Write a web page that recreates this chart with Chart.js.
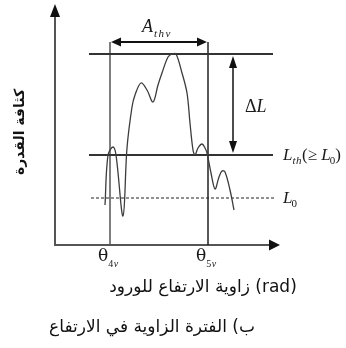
<!DOCTYPE html>
<html>
<head>
<meta charset="utf-8">
<script src="https://cdn.jsdelivr.net/npm/chart.js@4/dist/chart.umd.min.js"></script>
<style>
html,body{margin:0;padding:0;background:#fff;}
#c{display:block;}
</style>
</head>
<body>
<canvas id="c" width="346" height="348"></canvas>
<script>
// ---- data (schematic units) ----
const curveX = [50, 53, 58, 61, 68, 72, 77, 80, 86, 92, 98, 103, 107, 113, 117, 121, 127, 132, 135, 138, 140, 143, 147, 150, 152, 156, 160, 164, 167, 170, 175, 179];
const curveY = [40, 90, 98, 90, 29, 97, 138, 150, 162, 155, 143, 160, 172, 188, 191, 191, 172, 152, 122, 95, 90, 97, 101, 97, 92, 72, 56, 68, 74, 73, 55, 35];
const levelNames = ['Lmax', 'Lth', 'L0'];
const levelValues = [191, 90, 47];
const levelStart = [34, 34, 36];
const levelEnd = [218, 218, 220];
const angleNames = ['θ4v', 'θ5v'];
const angleValues = [55, 153];
const angleTop = 203;
const yTitle = 'كثافة القدرة';
const xTitle = 'زاوية الارتفاع للورود (rad)';
const caption = 'ب) الفترة الزاوية في الارتفاع';

const curvePts = curveX.map((x, i) => ({x: x, y: curveY[i]}));

const datasets = [
  {label: 'curve', data: curvePts, showLine: true, borderColor: '#3c3c3c', borderWidth: 1.3, pointRadius: 0, tension: 0.35, fill: false}
];
levelValues.forEach((v, i) => {
  datasets.push({
    label: levelNames[i],
    data: [{x: levelStart[i], y: v}, {x: levelEnd[i], y: v}],
    showLine: true, borderColor: i === 2 ? '#222' : '#333', borderWidth: i === 2 ? 1.2 : 2,
    borderDash: i === 2 ? [3, 2] : [], pointRadius: 0, tension: 0
  });
});
angleValues.forEach((v, i) => {
  datasets.push({
    label: angleNames[i],
    data: [{x: v, y: 0}, {x: v, y: angleTop}],
    showLine: true, borderColor: i === 0 ? '#555' : '#222', borderWidth: 1.5, pointRadius: 0, tension: 0
  });
});

function arrowHead(ctx, x, y, dir, len, half) {
  ctx.beginPath();
  if (dir === 'up') { ctx.moveTo(x, y); ctx.lineTo(x - half, y + len); ctx.lineTo(x + half, y + len); }
  if (dir === 'down') { ctx.moveTo(x, y); ctx.lineTo(x - half, y - len); ctx.lineTo(x + half, y - len); }
  if (dir === 'left') { ctx.moveTo(x, y); ctx.lineTo(x + len, y - half); ctx.lineTo(x + len, y + half); }
  if (dir === 'right') { ctx.moveTo(x, y); ctx.lineTo(x - len, y - half); ctx.lineTo(x - len, y + half); }
  ctx.closePath();
  ctx.fill();
}

// runs: [text, font, dy, extraGap, letterSpacing]
function drawRuns(ctx, x, y, runs) {
  ctx.textAlign = 'left';
  ctx.textBaseline = 'alphabetic';
  runs.forEach(r => {
    ctx.font = r[1];
    const ls = r[4] || 0;
    if (ls) {
      for (const ch of r[0]) {
        ctx.fillText(ch, x, y + (r[2] || 0));
        x += ctx.measureText(ch).width + ls;
      }
      x += (r[3] || 0);
    } else {
      ctx.fillText(r[0], x, y + (r[2] || 0));
      x += ctx.measureText(r[0]).width + (r[3] || 0);
    }
  });
}

const SERIF = '"Liberation Serif", "Times New Roman", serif';
const ARAB = '"DejaVu Sans", sans-serif';

const decor = {
  id: 'decor',
  beforeDatasetsDraw(chart) {
    const {ctx, chartArea: a} = chart;
    ctx.save();
    ctx.strokeStyle = '#555';
    ctx.lineWidth = 2;
    ctx.beginPath();
    ctx.moveTo(a.left, a.top + 8);
    ctx.lineTo(a.left, a.bottom);
    ctx.lineTo(a.right - 8, a.bottom);
    ctx.stroke();
    ctx.fillStyle = '#111';
    arrowHead(ctx, a.left, a.top, 'up', 13, 5);
    arrowHead(ctx, a.right, a.bottom, 'right', 11, 5.5);
    ctx.restore();
  },
  afterDraw(chart) {
    const {ctx, chartArea: a} = chart;
    const xs = chart.scales.x, ys = chart.scales.y;
    ctx.save();
    ctx.fillStyle = '#111';
    ctx.strokeStyle = '#111';
    // A_thv double arrow between the two angle lines
    const ay = ys.getPixelForValue(angleTop);
    const ax1 = xs.getPixelForValue(angleValues[0]), ax2 = xs.getPixelForValue(angleValues[1]);
    ctx.lineWidth = 2;
    ctx.beginPath(); ctx.moveTo(ax1 + 8, ay); ctx.lineTo(ax2 - 8, ay); ctx.stroke();
    arrowHead(ctx, ax1 + 1, ay, 'left', 10, 4.5);
    arrowHead(ctx, ax2 - 1, ay, 'right', 10, 4.5);
    // Delta L double arrow
    const dx = xs.getPixelForValue(178);
    const dy1 = ys.getPixelForValue(levelValues[0]), dy2 = ys.getPixelForValue(levelValues[1]);
    ctx.lineWidth = 1.5;
    ctx.beginPath(); ctx.moveTo(dx, dy1 + 10); ctx.lineTo(dx, dy2 - 10); ctx.stroke();
    arrowHead(ctx, dx, dy1 + 2, 'up', 12, 4);
    arrowHead(ctx, dx, dy2 - 2, 'down', 12, 4);

    ctx.fillStyle = '#1a1a1a';
    drawRuns(ctx, 142, 32, [['A', 'italic 18px ' + SERIF, 0, 1], ['thv', 'italic 11px ' + SERIF, 5, 0, 1.5]]);
    drawRuns(ctx, 245, 112, [['Δ', '18px ' + SERIF], ['L', 'italic 18px ' + SERIF]]);
    const lthY = ys.getPixelForValue(levelValues[1]) + 5;
    drawRuns(ctx, 283, lthY, [['L', 'italic 17px ' + SERIF], ['th', 'italic 11px ' + SERIF, 4, 0, 0.5], ['(≥ ', '17px ' + SERIF], ['L', 'italic 17px ' + SERIF, 0, -1], ['0', '11px ' + SERIF, 4], [')', '17px ' + SERIF]]);
    const l0Y = ys.getPixelForValue(levelValues[2]) + 5;
    drawRuns(ctx, 283, l0Y, [['L', 'italic 17px ' + SERIF, 0, -1], ['0', '11px ' + SERIF, 4]]);
    angleNames.forEach((n, i) => {
      const px = xs.getPixelForValue(angleValues[i]);
      drawRuns(ctx, px - 12, a.bottom + 16, [['θ', '17px "DejaVu Serif", serif'], [n.slice(1, 2), '10px ' + SERIF, 6, 0.5], [n.slice(2), 'italic 10px ' + SERIF, 6]]);
    });

    // Arabic titles
    ctx.fillStyle = '#111';
    ctx.textAlign = 'center';
    ctx.textBaseline = 'middle';
    ctx.save();
    ctx.translate(20, 132);
    ctx.rotate(-Math.PI / 2);
    ctx.font = 'bold 14px "DejaVu Sans", sans-serif';
    ctx.fillText(yTitle, 0, 0);
    ctx.restore();
    ctx.font = '17px ' + ARAB;
    ctx.fillText(xTitle, 203, 288);
    ctx.fillText(caption, 152, 328);
    ctx.restore();
  }
};

new Chart(document.getElementById('c'), {
  type: 'scatter',
  data: {datasets: datasets},
  options: {
    responsive: false,
    animation: false,
    devicePixelRatio: 1,
    layout: {padding: {left: 55, right: 66, top: 4, bottom: 103}},
    plugins: {legend: {display: false}, tooltip: {enabled: false}},
    scales: {
      x: {type: 'linear', min: 0, max: 225, display: false},
      y: {type: 'linear', min: 0, max: 241, display: false}
    }
  },
  plugins: [decor]
});
</script>
</body>
</html>
